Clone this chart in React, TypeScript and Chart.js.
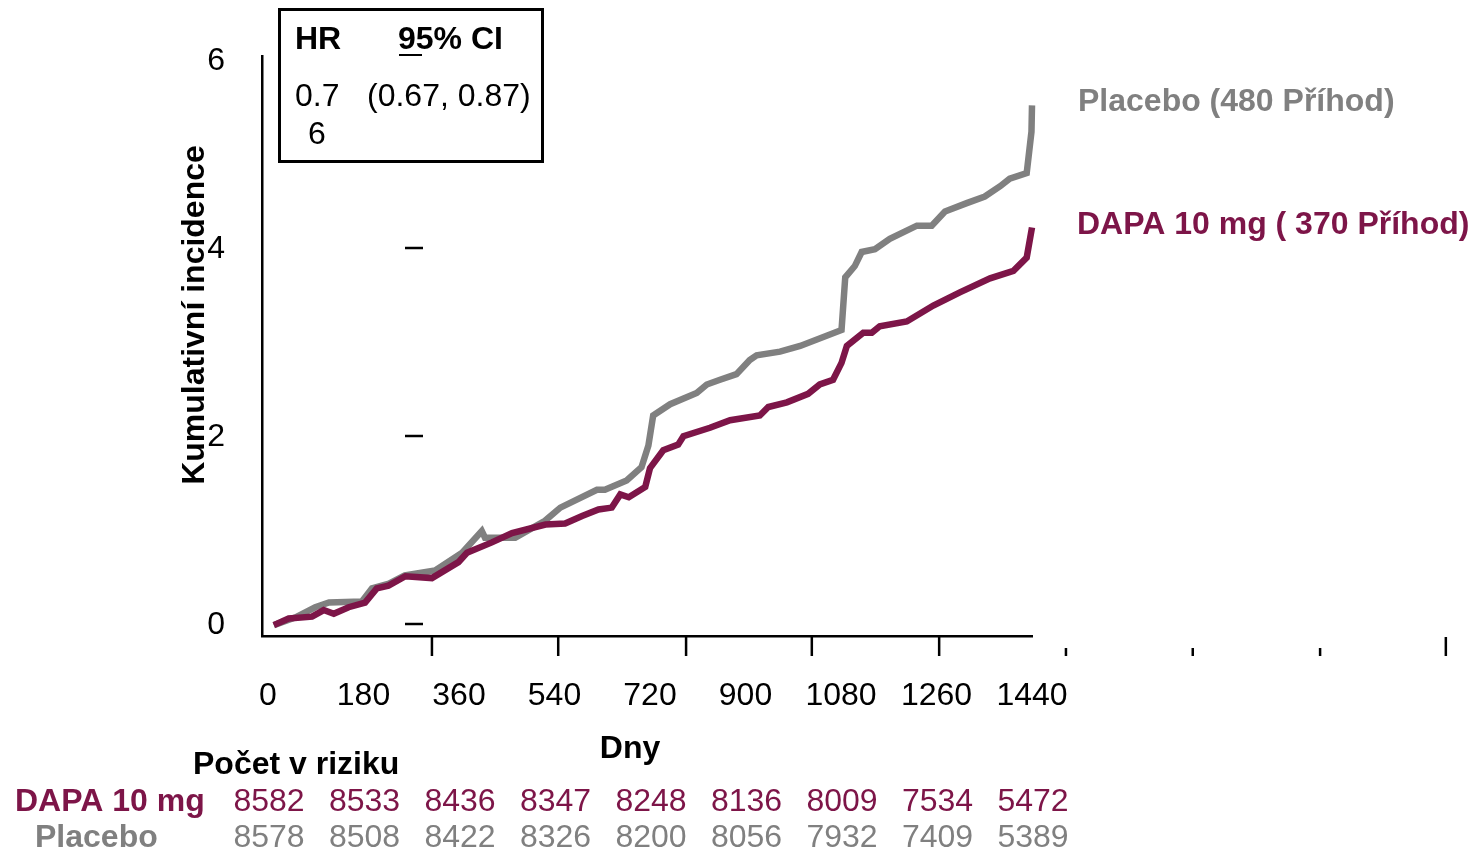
import { useEffect, useRef } from "react";
import { Chart, registerables } from "chart.js";

Chart.register(...registerables);

// ---- data ----
const tickDays = [0, 180, 360, 540, 720, 900, 1080, 1260, 1440];
const yTickValues = [0, 2, 4, 6];
const dapaRisk = [8582, 8533, 8436, 8347, 8248, 8136, 8009, 7534, 5472];
const placeboRisk = [8578, 8508, 8422, 8326, 8200, 8056, 7932, 7409, 5389];

const dapaDays = [11, 39, 83, 105, 124, 152, 183, 205, 227, 259, 309, 359, 375, 422, 460, 523, 560, 592, 623, 648, 664, 680, 711, 720, 745, 773, 783, 833, 871, 927, 943, 978, 1018, 1040, 1065, 1081, 1091, 1122, 1138, 1153, 1204, 1254, 1304, 1361, 1405, 1430, 1440];
const dapaValues = [0, 0.07, 0.09, 0.16, 0.12, 0.19, 0.24, 0.39, 0.42, 0.52, 0.5, 0.67, 0.77, 0.88, 0.98, 1.07, 1.08, 1.16, 1.23, 1.25, 1.39, 1.36, 1.47, 1.67, 1.86, 1.92, 2.01, 2.1, 2.18, 2.23, 2.32, 2.37, 2.46, 2.56, 2.61, 2.79, 2.97, 3.11, 3.11, 3.18, 3.23, 3.4, 3.54, 3.69, 3.77, 3.91, 4.23];

const placeboDays = [11, 51, 89, 115, 177, 196, 228, 258, 315, 366, 403, 409, 466, 522, 551, 620, 635, 676, 704, 717, 726, 758, 808, 827, 852, 883, 908, 921, 965, 1003, 1081, 1088, 1106, 1119, 1144, 1172, 1223, 1251, 1276, 1317, 1351, 1380, 1398, 1430, 1439, 1440];
const placeboValues = [0, 0.08, 0.19, 0.24, 0.25, 0.39, 0.44, 0.53, 0.58, 0.77, 1.0, 0.93, 0.93, 1.11, 1.25, 1.44, 1.44, 1.54, 1.68, 1.91, 2.23, 2.35, 2.47, 2.56, 2.61, 2.67, 2.82, 2.87, 2.91, 2.97, 3.14, 3.7, 3.82, 3.97, 4.0, 4.11, 4.25, 4.25, 4.4, 4.49, 4.56, 4.67, 4.75, 4.81, 5.25, 5.53];

const yDashValues = [0, 2, 4];
const slideTickDays = [309, 547, 788, 1025, 1265, 1504, 1743, 1983, 2220];
const slideTickLong = [true, true, true, true, true, false, false, false, true];

const MAROON = "#7d1548";
const GRAY = "#808080";
const FONT = "'Liberation Sans', Arial, sans-serif";
const FS = 32;

const overlayPlugin = {
  id: "overlay",
  afterDraw(chart: any) {
    const ctx = chart.ctx as CanvasRenderingContext2D;
    const x = chart.scales.x;
    const y = chart.scales.y;
    ctx.save();

    // y dashes
    ctx.strokeStyle = "#000";
    ctx.lineWidth = 2.5;
    yDashValues.forEach((v) => {
      const py = Math.round(y.getPixelForValue(v)) - 1;
      ctx.beginPath();
      ctx.moveTo(405, py);
      ctx.lineTo(423, py);
      ctx.stroke();
    });

    // slide tick marks below the axis
    slideTickDays.forEach((d, i) => {
      const px = x.getPixelForValue(d);
      ctx.beginPath();
      ctx.moveTo(px, slideTickLong[i] ? 637 : 648);
      ctx.lineTo(px, 656);
      ctx.stroke();
    });

    ctx.textBaseline = "middle";

    // HR box
    ctx.lineWidth = 3;
    ctx.strokeRect(279.5, 9.5, 263, 152);
    ctx.fillStyle = "#000";
    ctx.textAlign = "left";
    ctx.font = `bold ${FS}px ${FONT}`;
    ctx.fillText("HR", 295, 40);
    ctx.fillText("95% CI", 398, 40);
    ctx.lineWidth = 2;
    ctx.beginPath();
    ctx.moveTo(399, 55);
    ctx.lineTo(422, 55);
    ctx.stroke();
    ctx.font = `${FS}px ${FONT}`;
    ctx.fillText("0.7", 295, 97);
    ctx.fillText("6", 308, 135);
    ctx.fillText("(0.67, 0.87)", 367, 97);

    // curve labels
    ctx.font = `bold ${FS}px ${FONT}`;
    ctx.fillStyle = GRAY;
    ctx.fillText("Placebo (480 Příhod)", 1078, 102);
    ctx.fillStyle = MAROON;
    ctx.fillText("DAPA 10 mg ( 370 Příhod)", 1077, 225);

    // axis title x
    ctx.fillStyle = "#000";
    ctx.textAlign = "center";
    ctx.fillText("Dny", 630, 749);

    // y axis title
    ctx.save();
    ctx.translate(195, 315);
    ctx.rotate(-Math.PI / 2);
    ctx.fillText("Kumulativní incidence", 0, 0);
    ctx.restore();

    // risk table
    ctx.textAlign = "left";
    ctx.fillStyle = "#000";
    ctx.fillText("Počet v riziku", 193, 765);
    ctx.fillStyle = MAROON;
    ctx.fillText("DAPA 10 mg", 15, 802);
    ctx.fillStyle = GRAY;
    ctx.fillText("Placebo", 35, 838);

    ctx.font = `${FS}px ${FONT}`;
    ctx.textAlign = "center";
    tickDays.forEach((d, i) => {
      const px = x.getPixelForValue(d);
      ctx.fillStyle = MAROON;
      ctx.fillText(String(dapaRisk[i]), px + 1, 802);
      ctx.fillStyle = GRAY;
      ctx.fillText(String(placeboRisk[i]), px + 1, 838);
    });

    ctx.restore();
  },
};

export default function App() {
  const canvasRef = useRef<HTMLCanvasElement | null>(null);

  useEffect(() => {
    const canvas = canvasRef.current;
    if (!canvas) return;
    const chart = new Chart(canvas, {
      type: "line",
      data: {
        datasets: [
          {
            label: "DAPA 10 mg",
            data: dapaDays.map((d, i) => ({ x: d, y: dapaValues[i] })),
            borderColor: MAROON,
            borderWidth: 6.5,
            pointRadius: 0,
            tension: 0,
            fill: false,
            clip: false,
          },
          {
            label: "Placebo",
            data: placeboDays.map((d, i) => ({ x: d, y: placeboValues[i] })),
            borderColor: GRAY,
            borderWidth: 6.5,
            pointRadius: 0,
            tension: 0,
            fill: false,
            clip: false,
          },
        ],
      },
      options: {
        responsive: false,
        animation: false,
        layout: { padding: { left: 0, top: 50, right: 442, bottom: 0 } },
        plugins: {
          legend: { display: false },
          tooltip: { enabled: false },
          title: { display: false },
        },
        scales: {
          x: {
            type: "linear",
            min: -11.3,
            max: 1440,
            grid: { display: false, drawTicks: false },
            border: { display: true, color: "#000", width: 2.5 },
            afterBuildTicks: (s: any) => {
              s.ticks = tickDays.map((v) => ({ value: v }));
            },
            afterFit: (s: any) => {
              s.height = 218;
            },
            ticks: {
              autoSkip: false,
              maxRotation: 0,
              padding: 41,
              color: "#000",
              font: { family: FONT, size: FS },
              callback: (v: any) => String(v),
            },
          },
          y: {
            type: "linear",
            min: -0.116,
            max: 6.053,
            grid: { display: false, drawTicks: false },
            border: { display: true, color: "#000", width: 2.5 },
            afterBuildTicks: (s: any) => {
              s.ticks = yTickValues.map((v) => ({ value: v }));
            },
            afterFit: (s: any) => {
              s.width = 262;
            },
            ticks: {
              padding: 37,
              color: "#000",
              font: { family: FONT, size: FS },
              callback: (v: any) => String(v),
            },
          },
        },
      },
      plugins: [overlayPlugin],
    });
    return () => chart.destroy();
  }, []);

  return (
    <div style={{ position: "fixed", left: 0, top: 0, width: 1474, height: 854, background: "#fff" }}>
      <canvas ref={canvasRef} width={1474} height={854} />
    </div>
  );
}
